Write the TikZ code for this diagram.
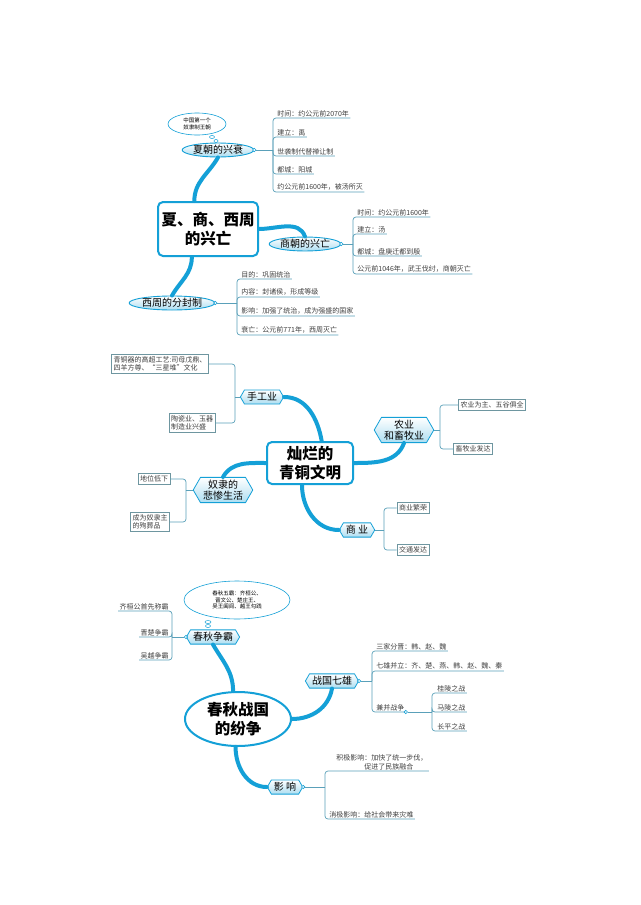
\documentclass[tikz,border=0pt]{standalone}
\usepackage{fontspec}
\setmainfont{Noto Sans CJK SC}
\usetikzlibrary{shapes.geometric,shapes.symbols}
\definecolor{cy}{RGB}{20,160,215}
\definecolor{ln}{RGB}{90,160,185}
\definecolor{bx}{RGB}{110,150,160}
\begin{document}
\begin{tikzpicture}[x=1pt,y=-1pt,
  thk/.style={draw=cy,line width=4pt,line cap=round},
  br/.style={draw=ln,line width=0.7pt,rounded corners=3pt},
  lt/.style={font=\fontsize{7}{8.5}\selectfont,inner sep=1.2pt,anchor=south west,text=black!75},
  bxs/.style={draw=bx,line width=0.6pt,font=\fontsize{7}{8.5}\selectfont,inner sep=2pt,align=left,text=black!75},
  ell/.style={ellipse,draw=cy,line width=0.9pt,top color=white,bottom color=cy!35,inner sep=0.3pt,font=\fontsize{10}{11}\selectfont},
  hexa/.style={signal,signal to=west and east,signal pointer angle=120,draw=cy,line width=0.8pt,top color=white,bottom color=cy!35,font=\fontsize{10}{11}\selectfont,align=center,inner sep=2.5pt},
  cloud/.style={ellipse,draw=cy,line width=0.6pt,fill=white,font=\fontsize{5.5}{6.5}\selectfont,align=center,inner sep=0pt},
  dot/.style={circle,draw=cy,fill=white,line width=0.6pt,inner sep=1.2pt},
  ttl/.style={draw=cy,line width=2pt,rounded corners=5pt,fill=white,font=\fontsize{15.5}{19}\selectfont\bfseries,align=center,inner sep=3pt}]
\useasboundingbox[fill=white] (0,0) rectangle (640,905);
% ===== Section 1
\node[ttl,minimum width=100pt,minimum height=54pt] (c1) at (208,229) {夏、商、西周\\的兴亡};
\node[ell] (xia) at (218,150) {夏朝的兴衰};
\node[ell] (shang) at (305,244) {商朝的兴亡};
\node[ell] (zhou) at (172,303) {西周的分封制};
\node[cloud,minimum width=58pt,minimum height=22pt] (cl1) at (197,124) {中国第一个\\奴隶制王朝};
\node[ellipse,draw=cy,line width=0.5pt,inner sep=0pt,minimum width=5pt,minimum height=3pt] (b1) at (212,137) {};
\node[ellipse,draw=cy,line width=0.5pt,inner sep=0pt,minimum width=4pt,minimum height=3pt] (b2) at (216,141) {};
\draw[thk] (c1.116) to[out=90,in=-120] (xia.south);
\draw[thk] (c1.east) to[out=0,in=110] (shang.north);
\draw[thk] (c1.240) to[out=-90,in=60] (zhou.north);
\node[dot] (dx) at (xia.east) {};
\node[dot] (ds) at (shang.east) {};
\node[dot] (dz) at (zhou.east) {};
\coordinate (jx) at (273,150);
\node[lt] (x1) at (276,118) {时间：约公元前2070年};
\node[lt] (x2) at (276,137) {建立：禹};
\node[lt] (x3) at (276,156) {世袭制代替禅让制};
\node[lt] (x4) at (276,174) {都城：阳城};
\node[lt] (x5) at (276,192) {约公元前1600年，被汤所灭};
\draw[ln,line width=0.7pt] (dx) -- (jx);
\foreach \n in {x1,x2,x3,x4,x5} \draw[br] (jx) |- (\n.south east);
\coordinate (js) at (353,244);
\node[lt] (s1) at (356,217) {时间：约公元前1600年};
\node[lt] (s2) at (356,234) {建立：汤};
\node[lt] (s3) at (356,256) {都城：盘庚迁都到殷};
\node[lt] (s4) at (356,274) {公元前1046年，武王伐纣，商朝灭亡};
\draw[ln,line width=0.7pt] (ds) -- (js);
\foreach \n in {s1,s2,s3,s4} \draw[br] (js) |- (\n.south east);
\coordinate (jz) at (237,303);
\node[lt] (z1) at (240,279) {目的：巩固统治};
\node[lt] (z2) at (240,297) {内容：封诸侯，形成等级};
\node[lt] (z3) at (240,316) {影响：加强了统治，成为强盛的国家};
\node[lt] (z4) at (240,335) {衰亡：公元前771年，西周灭亡};
\draw[ln,line width=0.7pt] (dz) -- (jz);
\foreach \n in {z1,z2,z3,z4} \draw[br] (jz) |- (\n.south east);
% ===== Section 2
\node[ttl,minimum width=86pt,minimum height=42pt] (c2) at (310,463) {灿烂的\\青铜文明};
\node[hexa] (sg) at (262,397) {手工业};
\node[hexa] (ny) at (404,430) {农业\\和畜牧业};
\node[hexa] (nl) at (223,490) {奴隶的\\悲惨生活};
\node[hexa] (sy) at (357,530) {商\ 业};
\draw[thk] (sg.east) to[out=0,in=100] (c2.62);
\draw[thk] (c2.east) to[out=0,in=-110] (ny.south);
\draw[thk] (c2.west) to[out=180,in=60] (nl.north);
\draw[thk] (c2.250) to[out=-90,in=180] (sy.west);
\node[bxs] (g1) at (160,364) {青铜器的高超工艺:司母戊鼎、\\四羊方尊、“三星堆”文化};
\node[bxs] (g2) at (192,423) {陶瓷业、玉器\\制造业兴盛};
\coordinate (jg) at (235,397);
\draw[ln,line width=0.7pt] (sg.west) -- (jg);
\foreach \n in {g1,g2} \draw[br] (jg) |- (\n.east);
\node[bxs] (n1) at (492,405) {农业为主、五谷俱全};
\node[bxs] (n2) at (473,449) {畜牧业发达};
\coordinate (jn) at (440,430);
\draw[ln,line width=0.7pt] (ny.east) -- (jn);
\foreach \n in {n1,n2} \draw[br] (jn) |- (\n.west);
\node[bxs] (l1) at (154,479) {地位低下};
\node[bxs] (l2) at (150,522) {成为奴隶主\\的殉葬品};
\coordinate (jl) at (186,490);
\draw[ln,line width=0.7pt] (nl.west) -- (jl);
\foreach \n in {l1,l2} \draw[br] (jl) |- (\n.east);
\node[bxs] (m1) at (413,508) {商业繁荣};
\node[bxs] (m2) at (413,550) {交通发达};
\coordinate (jm) at (384,530);
\draw[ln,line width=0.7pt] (sy.east) -- (jm);
\foreach \n in {m1,m2} \draw[br] (jm) |- (\n.west);
% ===== Section 3
\node[ellipse,draw=cy,line width=2pt,fill=white,font=\fontsize{15.5}{19}\selectfont\bfseries,align=center,minimum width=106pt,minimum height=54pt,inner sep=0pt] (c3) at (238,719) {春秋战国\\的纷争};
\node[hexa] (cq) at (213,637) {春秋争霸};
\node[hexa] (zg) at (332,681) {战国七雄};
\node[hexa] (yx) at (285,787) {影\ 响};
\draw[thk] (c3.100) to[out=90,in=-60] (cq.south);
\draw[thk] (c3.east) to[out=0,in=-100] (zg.south);
\draw[thk] (c3.265) to[out=-90,in=180] (yx.west);
\node[cloud,minimum width=106pt,minimum height=38pt] (cl3) at (237,600) {春秋五霸：齐桓公、\\晋文公、楚庄王、\\吴王阖闾、越王勾践};
\node[ellipse,draw=cy,line width=0.5pt,inner sep=0pt,minimum width=6pt,minimum height=3pt] (b3) at (208,622) {};
\node[ellipse,draw=cy,line width=0.5pt,inner sep=0pt,minimum width=5pt,minimum height=3pt] (b4) at (208,626) {};
\node[dot] (dq) at (cq.west) {};
\coordinate (jq) at (172,637);
\draw[ln,line width=0.7pt] (dq) -- (jq);
\node[lt,anchor=south east] (q1) at (170,611) {齐桓公首先称霸};
\node[lt,anchor=south east] (q2) at (170,637) {晋楚争霸};
\node[lt,anchor=south east] (q3) at (170,660) {吴越争霸};
\foreach \n in {q1,q2,q3} \draw[br] (jq) |- (\n.south west);
\node[dot] (dg) at (zg.east) {};
\coordinate (jgz) at (372,681);
\draw[ln,line width=0.7pt] (dg) -- (jgz);
\node[lt] (w1) at (375,651) {三家分晋：韩、赵、魏};
\node[lt] (w2) at (375,671) {七雄并立：齐、楚、燕、韩、赵、魏、秦};
\node[lt] (w3) at (375,712) {兼并战争};
\foreach \n in {w1,w2,w3} \draw[br] (jgz) |- (\n.south east);
\node[dot] (dw) at (w3.south east) {};
\coordinate (jw) at (432,712);
\draw[ln,line width=0.7pt] (dw) -- (jw);
\node[lt] (v1) at (436,693) {桂陵之战};
\node[lt] (v2) at (436,712) {马陵之战};
\node[lt] (v3) at (436,731) {长平之战};
\foreach \n in {v1,v2,v3} \draw[br] (jw) |- (\n.south east);
\node[dot] (dy) at (yx.east) {};
\coordinate (jy) at (325,787);
\draw[ln,line width=0.7pt] (dy) -- (jy);
\node[lt,align=left] (y1) at (328,771) {\quad 积极影响：加快了统一步伐，\\\qquad\qquad\quad 促进了民族融合};
\node[lt] (y2) at (328,819) {消极影响：给社会带来灾难};
\foreach \n in {y1,y2} \draw[br] (jy) |- (\n.south east);
\end{tikzpicture}
\end{document}
